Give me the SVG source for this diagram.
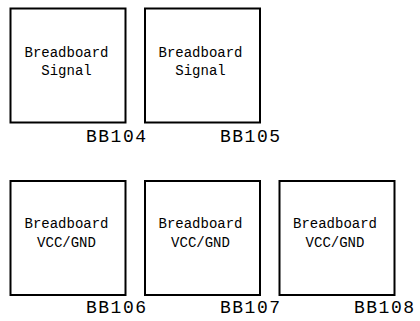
<svg xmlns="http://www.w3.org/2000/svg" width="420" height="321" viewBox="0 0 420 321">
<style>
.box{fill:#fff;stroke:#000;stroke-width:2}
.in{font-family:"Liberation Mono","DejaVu Sans Mono",monospace;font-size:14px;fill:#000;text-anchor:middle}
.lbl{font-family:"Liberation Mono","DejaVu Sans Mono",monospace;font-size:18px;fill:#000}
</style>
<rect width="420" height="321" fill="#fff"/>
<g id="BB104">
<rect class="box" x="10.5" y="8.5" width="115" height="114"/>
<text class="in" x="66.5" y="57">Breadboard</text>
<text class="in" x="66.5" y="75">Signal</text>
<text class="lbl" x="86" y="141.5" textLength="60" lengthAdjust="spacing">BB104</text>
</g>
<g id="BB105">
<rect class="box" x="145" y="8.5" width="115" height="114"/>
<text class="in" x="200.5" y="57">Breadboard</text>
<text class="in" x="200.5" y="75">Signal</text>
<text class="lbl" x="220" y="141.5" textLength="60" lengthAdjust="spacing">BB105</text>
</g>
<g id="BB106">
<rect class="box" x="10.5" y="181" width="115" height="114"/>
<text class="in" x="66.5" y="228">Breadboard</text>
<text class="in" x="66.5" y="247">VCC/GND</text>
<text class="lbl" x="86" y="313" textLength="60" lengthAdjust="spacing">BB106</text>
</g>
<g id="BB107">
<rect class="box" x="145" y="181" width="115" height="114"/>
<text class="in" x="200.5" y="228">Breadboard</text>
<text class="in" x="200.5" y="247">VCC/GND</text>
<text class="lbl" x="220" y="313" textLength="60" lengthAdjust="spacing">BB107</text>
</g>
<g id="BB108">
<rect class="box" x="279.5" y="181" width="115" height="114"/>
<text class="in" x="335" y="228">Breadboard</text>
<text class="in" x="335" y="247">VCC/GND</text>
<text class="lbl" x="354" y="313" textLength="60" lengthAdjust="spacing">BB108</text>
</g>
<g id="connectors"></g>
</svg>
